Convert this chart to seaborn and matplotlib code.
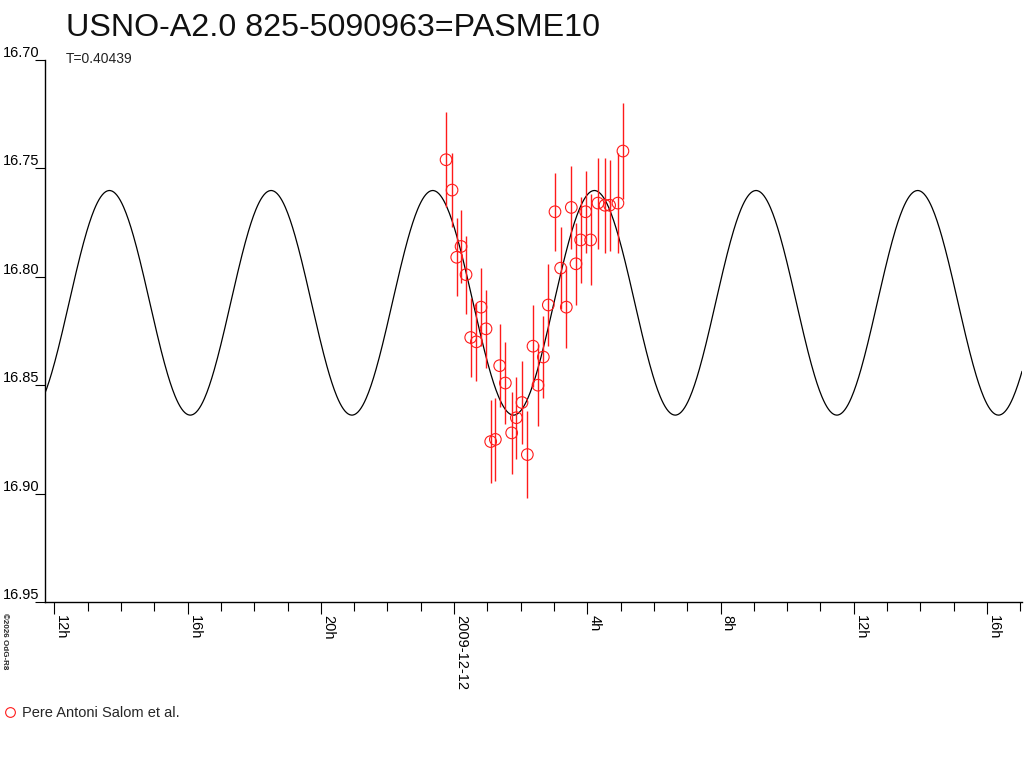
import numpy as np
import pandas as pd
import matplotlib
matplotlib.use('Agg')
import matplotlib.pyplot as plt
from matplotlib.lines import Line2D
from matplotlib.ticker import MultipleLocator
import seaborn as sns

# observations: hours relative to 2009-12-12 00:00 UT
obs_hours = [-0.24, -0.06, 0.08, 0.21, 0.36, 0.50, 0.67, 0.81, 0.96, 1.10,
             1.24, 1.37, 1.54, 1.73, 1.87, 2.04, 2.20, 2.37, 2.52, 2.68,
             2.83, 3.03, 3.20, 3.37, 3.52, 3.66, 3.80, 3.95, 4.10, 4.32,
             4.53, 4.67, 4.92, 5.07]
obs_mag = [16.746, 16.760, 16.791, 16.786, 16.799, 16.828, 16.830, 16.814,
           16.824, 16.876, 16.875, 16.841, 16.849, 16.872, 16.865, 16.858,
           16.882, 16.832, 16.850, 16.837, 16.813, 16.770, 16.796, 16.814,
           16.768, 16.794, 16.783, 16.770, 16.783, 16.766, 16.767, 16.767,
           16.766, 16.742]
obs_err = [0.022, 0.017, 0.018, 0.017, 0.018, 0.018, 0.018, 0.018, 0.018,
           0.019, 0.019, 0.019, 0.019, 0.019, 0.019, 0.019, 0.020, 0.019,
           0.019, 0.019, 0.019, 0.018, 0.019, 0.019, 0.019, 0.019, 0.020,
           0.019, 0.021, 0.021, 0.022, 0.021, 0.023, 0.022]

# light curve model (double wave over one period T)
PERIOD_DAYS = 0.40439
MEAN_MAG = 16.812
AMPLITUDE = 0.0518
EPOCH_MAX_H = -0.64

x_ticks = [-12, -8, -4, 0, 4, 8, 12, 16]
x_labels = ['12h', '16h', '20h', '2009-12-12', '4h', '8h', '12h', '16h']
y_ticks = [16.70, 16.75, 16.80, 16.85, 16.90, 16.95]
y_labels = ['16.70', '16.75', '16.80', '16.85', '16.90', '16.95']

RED = '#ff1a1a'

sns.set_theme(style='ticks')
plt.rcParams['font.family'] = ['Liberation Sans', 'DejaVu Sans']

obs = pd.DataFrame({'t': obs_hours, 'mag': obs_mag, 'err': obs_err})
t_grid = np.linspace(-12.3, 17.1, 1200)
curve = pd.DataFrame({
    't': t_grid,
    'mag': MEAN_MAG - AMPLITUDE * np.cos(4 * np.pi * (t_grid - EPOCH_MAX_H) / (PERIOD_DAYS * 24)),
})

fig = plt.figure(figsize=(10.24, 7.68), dpi=100)
ax = fig.add_axes([45 / 1024, 1 - 602 / 768, 977 / 1024, 542 / 768])

sns.lineplot(data=curve, x='t', y='mag', color='black', lw=0.9,
             estimator=None, sort=False, ax=ax)
ax.errorbar(obs['t'], obs['mag'], yerr=obs['err'], fmt='none',
            ecolor=RED, elinewidth=1.0, capsize=0, zorder=3)
sns.scatterplot(data=obs, x='t', y='mag', marker='o', s=70,
                facecolor='none', edgecolor=RED, linewidth=0.8,
                zorder=4, ax=ax)

ax.set_xlim(-12.28, 17.05)
ax.set_ylim(16.95, 16.70)
ax.set_xlabel('')
ax.set_ylabel('')

for side in ['top', 'right']:
    ax.spines[side].set_visible(False)
for side in ['left', 'bottom']:
    ax.spines[side].set_color('black')
    ax.spines[side].set_linewidth(1.0)

ax.set_xticks(x_ticks, labels=x_labels, rotation=-90, ha='left', va='top')
ax.xaxis.set_minor_locator(MultipleLocator(1))
ax.tick_params(axis='x', which='major', length=8.6, width=0.8, pad=0.8,
               labelsize=10.5, colors='black', direction='out')
ax.tick_params(axis='x', which='minor', length=6.5, width=0.8,
               color='black', direction='out')

ax.set_yticks(y_ticks, labels=y_labels, va='bottom')
ax.tick_params(axis='y', which='major', length=7.2, width=0.8, pad=-2.9,
               labelsize=10.5, colors='black', direction='out')

fig.text(66 / 1024, 1 - 36 / 768, 'USNO-A2.0 825-5090963=PASME10',
         fontsize=23.2, va='baseline', ha='left', color='#111111')
fig.text(66 / 1024, 1 - 63 / 768, 'T=0.40439', fontsize=10,
         va='baseline', ha='left', color='#222222')
fig.text(4 / 1024, 1 - 613 / 768, '©2026 OdG-R8', fontsize=5.8,
         fontweight='bold', rotation=-90, va='top', ha='center',
         family=['Liberation Sans', 'DejaVu Sans'])

handle = Line2D([], [], marker='o', ls='none', mfc='none', mec=RED,
                mew=0.8, ms=7)
fig.legend(handles=[handle], labels=['Pere Antoni Salom et al.'],
           loc='center left', bbox_to_anchor=(3 / 1024, 1 - 713 / 768),
           frameon=False, borderaxespad=0, borderpad=0, handlelength=1.0,
           handletextpad=0.3, fontsize=10.5)

fig.savefig('out.png', dpi=100, facecolor='white')
